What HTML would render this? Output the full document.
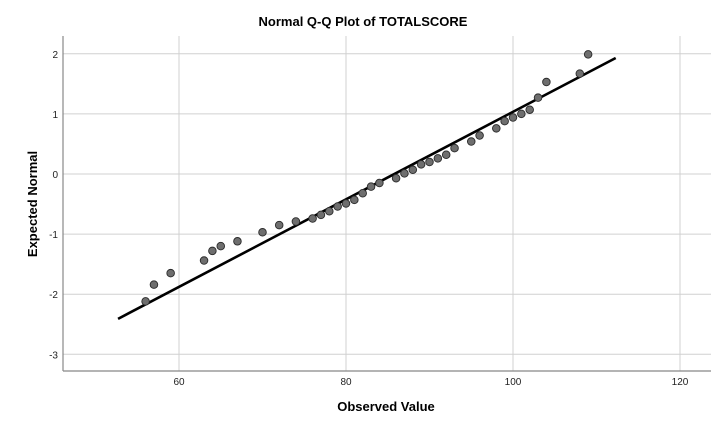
<!DOCTYPE html>
<html><head><meta charset="utf-8">
<style>
html,body{margin:0;padding:0;background:#fff;}
svg{display:block;font-family:"Liberation Sans",Arial,sans-serif;}
</style></head>
<body>
<svg id="chart" width="725" height="421" viewBox="0 0 725 421">
<text x="363" y="26" text-anchor="middle" font-size="13" font-weight="bold" fill="#000">Normal Q-Q Plot of TOTALSCORE</text>
<g id="grid"></g>
<g id="axes"></g>
<g id="marks"></g>
<text x="386" y="411" text-anchor="middle" font-size="13" font-weight="bold" fill="#000">Observed Value</text>
<text transform="translate(37,204) rotate(-90)" text-anchor="middle" font-size="13" font-weight="bold" fill="#000">Expected Normal</text>
</svg>
<script>
const xTicks = [60, 80, 100, 120];
const yTicks = [2, 1, 0, -1, -2, -3];
const observed = [56,57,59,63,64,65,67,70,72,74,76,77,78,79,80,81,82,83,84,86,87,88,89,90,91,92,93,95,96,98,99,100,101,102,103,104,108,109];
const expected = [-2.12,-1.84,-1.65,-1.44,-1.28,-1.2,-1.12,-0.97,-0.85,-0.79,-0.74,-0.68,-0.62,-0.54,-0.49,-0.43,-0.32,-0.21,-0.15,-0.07,0.01,0.07,0.16,0.2,0.26,0.32,0.43,0.54,0.64,0.76,0.88,0.94,1.0,1.07,1.27,1.53,1.67,1.99];
const lineX = [52.7, 112.3];
const lineY = [-2.41, 1.93];

const NS = "http://www.w3.org/2000/svg";
const L = 63, R = 711, T = 36, B = 371;
function sx(v){ return 179 + (v - 60) * 8.35; }
function sy(v){ return 174 - v * 60.1; }
function mk(tag, attrs, parent){
  const e = document.createElementNS(NS, tag);
  for (const k in attrs) e.setAttribute(k, attrs[k]);
  parent.appendChild(e);
  return e;
}
const grid = document.getElementById('grid');
const axes = document.getElementById('axes');
const marks = document.getElementById('marks');

xTicks.forEach(t => {
  const g = mk('line', {x1:sx(t), x2:sx(t), y1:T, y2:B, stroke:'#d0d0d0', 'stroke-width':1}, grid);
  
  
  const lb = mk('text', {x:sx(t), y:B+14, 'text-anchor':'middle', 'font-size':10, fill:'#222'}, axes);
  lb.textContent = t;
  
  
});
yTicks.forEach(t => {
  const g = mk('line', {x1:L, x2:R, y1:sy(t), y2:sy(t), stroke:'#d0d0d0', 'stroke-width':1}, grid);
  
  
  const lb = mk('text', {x:L-5, y:sy(t)+4, 'text-anchor':'end', 'font-size':10, fill:'#222'}, axes);
  lb.textContent = t;
  
  
});
const ya = mk('line', {x1:L, x2:L, y1:T, y2:B, stroke:'#888', 'stroke-width':1.2}, axes);


const xa = mk('line', {x1:L, x2:R, y1:B, y2:B, stroke:'#888', 'stroke-width':1.2}, axes);



const ln = mk('line', {x1:sx(lineX[0]), y1:sy(lineY[0]), x2:sx(lineX[1]), y2:sy(lineY[1]), stroke:'#000', 'stroke-width':2.6}, marks);



observed.forEach((v, i) => {
  const c = mk('circle', {cx:sx(v), cy:sy(expected[i]), r:3.8, fill:'#6e6e6e', stroke:'#2a2a2a', 'stroke-width':0.9}, marks);
  
  
});
</script>
</body></html>
